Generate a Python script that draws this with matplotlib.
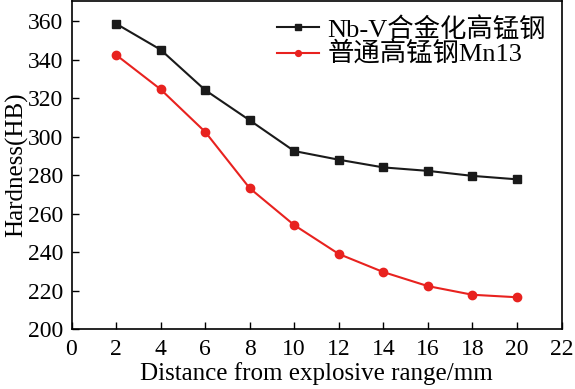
import matplotlib
matplotlib.use("Agg")
import matplotlib.pyplot as plt

x = [2, 4, 6, 8, 10, 12, 14, 16, 18, 20]
nbv = [358.7, 345.2, 324.2, 308.5, 292.5, 288.0, 284.0, 282.2, 279.6, 277.8]
mn13 = [342.5, 324.6, 302.5, 273.2, 254.0, 239.0, 229.6, 222.3, 217.8, 216.5]
labels = ["Nb-V合金化高锰钢", "普通高锰钢Mn13"]

plt.rcParams['font.family'] = ['Liberation Serif', 'Noto Sans CJK SC']

fig = plt.figure(figsize=(5.75, 3.89), dpi=100)
ax = fig.add_axes([71.5/575, 1 - 329/389, (561.5-71.5)/575, (329-1)/389])
ax.plot(x, nbv, color='#1a1a1a', marker='s', markersize=6, linewidth=1.5, label=labels[0])
ax.plot(x, mn13, color='#e8221f', marker='o', markersize=6, linewidth=1.5, label=labels[1])
ax.set_xlim(0, 22)
ax.set_ylim(200, 370.5)
ax.set_xticks(range(0, 23, 2))
ax.set_yticks(range(200, 361, 20))
ax.tick_params(direction='in', labelsize=17, length=5, width=1, top=False, right=False)
ax.tick_params(axis='y', pad=6)
ax.tick_params(axis='x', pad=7)
for s in ax.spines.values():
    s.set_linewidth(1.2)
ax.set_xlabel("Distance from explosive range/mm", fontsize=18, labelpad=2)
ax.set_ylabel("Hardness(HB)", fontsize=18, labelpad=0)
ax.legend(loc='upper right', frameon=False, fontsize=19, handlelength=1.6,
          handletextpad=0.3, borderaxespad=0.3, borderpad=0.3, labelspacing=0.0,
          markerscale=0.7)
fig.savefig("out.png", dpi=100)
